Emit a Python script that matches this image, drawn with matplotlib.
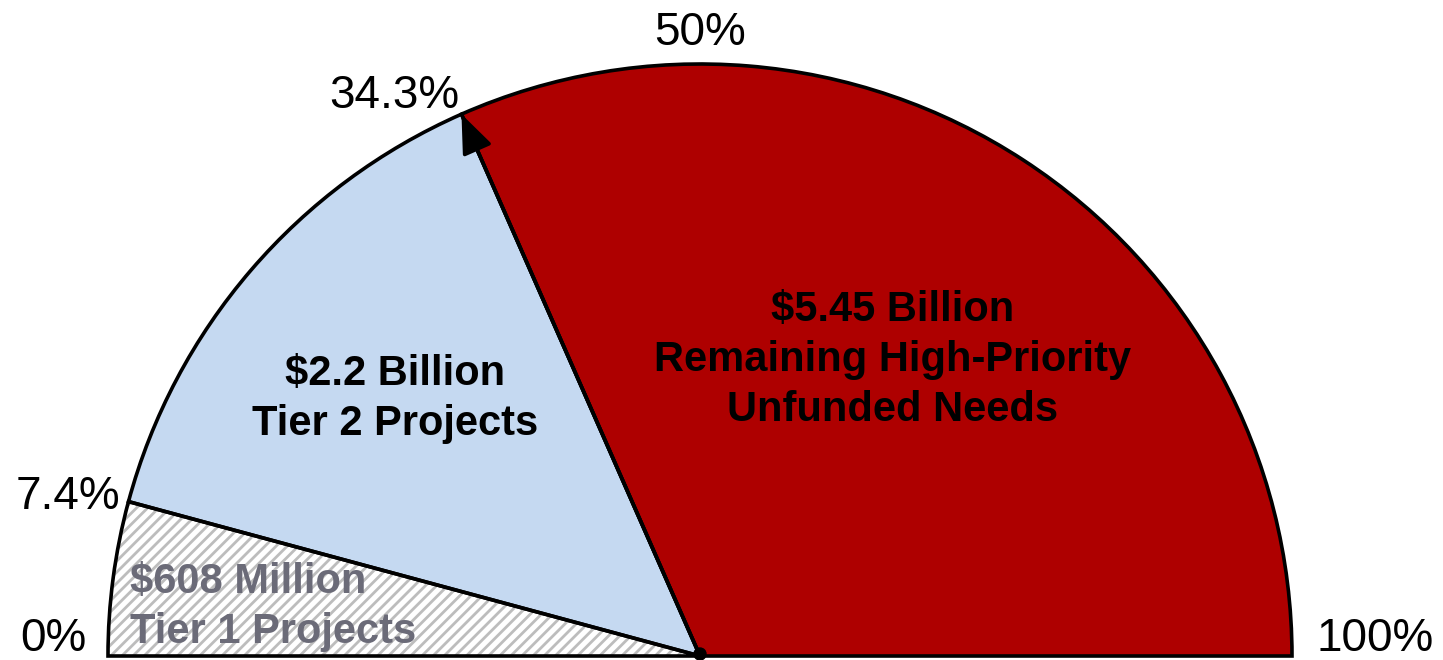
import matplotlib
matplotlib.use('Agg')
import matplotlib.pyplot as plt
from matplotlib.patches import Wedge, Circle
import numpy as np

# Datos del medidor (porcentaje del semicirculo)
segmentos = ['Tier 1', 'Tier 2', 'Remaining']
porcentajes = [8.4, 28.4, 63.2]
etiquetas_seg = ['$608 Million\nTier 1 Projects',
                 '$2.2 Billion\nTier 2 Projects',
                 '$5.45 Billion\nRemaining High-Priority\nUnfunded Needs']
ticks_pos = [0, 8.4, 36.8, 50, 100]
ticks_txt = ['0%', '7.4%', '34.3%', '50%', '100%']

plt.rcParams['font.family'] = ['Liberation Sans', 'DejaVu Sans']
plt.rcParams['hatch.linewidth'] = 2.0

R = 592.0  # radio en pixeles
fig = plt.figure(figsize=(14.43, 6.6), dpi=100)
ax = fig.add_axes([0, 0, 1, 1])
ax.set_xlim(-700 / R, 743 / R)
ax.set_ylim(-4 / R, 656 / R)
ax.axis('off')


def ang(p):
    return 180.0 * (1 - p / 100.0)


def px(x, y):
    return (x - 700) / R, (656 - y) / R


colores = ['white', '#C5D9F1', '#AE0000']
inicio = 0.0
for i, p in enumerate(porcentajes):
    t1, t2 = ang(inicio + p), ang(inicio)
    if i == 0:
        ax.add_patch(Wedge((0, 0), 1, t1, t2, facecolor='white', edgecolor='#BDBDBD',
                           hatch='///', linewidth=0, zorder=1))
    else:
        ax.add_patch(Wedge((0, 0), 1, t1, t2, facecolor=colores[i], edgecolor='none', zorder=1))
    ax.add_patch(Wedge((0, 0), 1, t1, t2, facecolor='none', edgecolor='black',
                       linewidth=2.6, zorder=2))
    inicio += p

# flecha hacia el limite de Tier 2
a = np.radians(ang(porcentajes[0] + porcentajes[1]))
ax.annotate('', xy=(np.cos(a), np.sin(a)), xytext=(0, 0),
            arrowprops=dict(arrowstyle='-|>,head_length=0.8,head_width=0.32',
                            mutation_scale=30, lw=2.6, color='black',
                            shrinkA=0, shrinkB=0), zorder=3)
ax.add_patch(Circle((0, 2 / R), 6 / R, color='black', zorder=4, clip_on=False))

# etiquetas de porcentaje alrededor del arco
alin = [('right', -21, 5), ('right', -8, -7), ('right', -2, 6), ('center', 0, 19), ('left', 24, 5)]
for pos, txt, (ha, dx, dy) in zip(ticks_pos, ticks_txt, alin):
    t = np.radians(ang(pos))
    ax.annotate(txt, xy=(np.cos(t), np.sin(t)), xytext=(dx, dy), textcoords='offset pixels',
                ha=ha, va='baseline', fontsize=33, color='black')

# etiquetas de los segmentos
ax.text(*px(130, 607), etiquetas_seg[0], ha='left', va='center', fontsize=30,
        fontweight='bold', color='#6B6B78', linespacing=1.32, zorder=5)
ax.text(*px(395, 399), etiquetas_seg[1], ha='center', va='center', fontsize=30,
        fontweight='bold', color='black', linespacing=1.32, multialignment='center', zorder=5)
ax.text(*px(893, 360), etiquetas_seg[2], ha='center', va='center', fontsize=30,
        fontweight='bold', color='black', linespacing=1.32, multialignment='center', zorder=5)

fig.savefig('out.png', dpi=100)
